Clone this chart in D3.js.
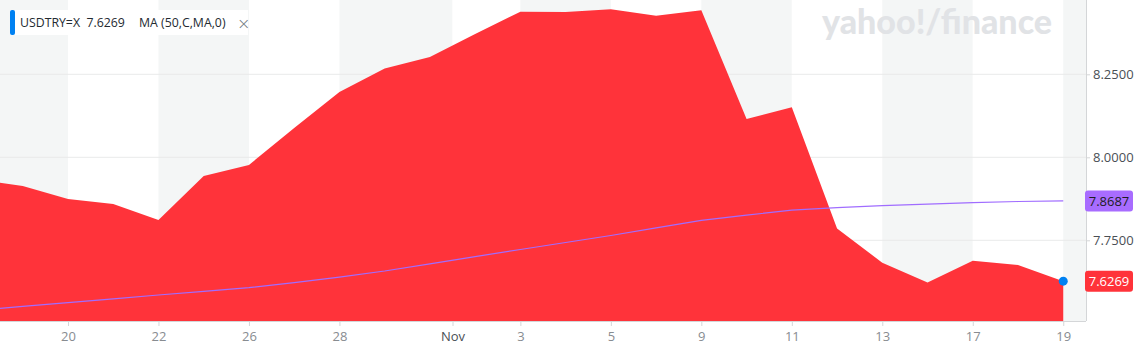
<!DOCTYPE html>
<html>
<head>
<meta charset="utf-8">
<script src="https://cdn.jsdelivr.net/npm/d3@7"></script>
<style>
  body { margin: 0; background: #fff; }
  svg { display: block; font-family: "Open Sans", "Noto Sans", sans-serif; }
</style>
</head>
<body>
<div id="chart"></div>
<script>
// data (USD/TRY daily close, Oct 16 - Nov 19 2020)
var dates = ["Oct 16", "Oct 19", "Oct 20", "Oct 21", "Oct 22", "Oct 23", "Oct 26", "Oct 27",
             "Oct 28", "Oct 29", "Oct 30", "Nov 2", "Nov 3", "Nov 4", "Nov 5", "Nov 6",
             "Nov 9", "Nov 10", "Nov 11", "Nov 12", "Nov 13", "Nov 16", "Nov 17", "Nov 18", "Nov 19"];
var closes = [7.9334, 7.9136, 7.8744, 7.8593, 7.8111, 7.9437, 7.9768, 8.0883,
              8.1967, 8.2675, 8.3021, 8.3714, 8.4386, 8.4377, 8.4458, 8.4265,
              8.4428, 8.1154, 8.1506, 7.7855, 7.6825, 7.6230, 7.6886, 7.6756, 7.6269];
var ma50 = [7.5395, 7.5509, 7.5620, 7.5735, 7.5852, 7.5961, 7.6072, 7.6223,
            7.6392, 7.6575, 7.6792, 7.7009, 7.7223, 7.7434, 7.7645, 7.7873,
            7.8102, 7.8256, 7.8410, 7.8485, 7.8542, 7.8590, 7.8633, 7.8669, 7.8687];
// x tick positions (day index) and their labels
var xTickPos = [2, 4, 6, 8, 10.5, 12, 14, 16, 18, 20, 22, 24];
var xTickLabels = ["20", "22", "26", "28", "Nov", "3", "5", "9", "11", "13", "17", "19"];
var yTicks = [7.75, 8.0, 8.25];

var W = 1141, H = 351;
var plotW = 1086, plotH = 321;

var svg = d3.select("#chart").append("svg")
    .attr("width", W)
    .attr("height", H);

var x = d3.scaleLinear().domain([1, 24]).range([22.75, 1063.25]);
var y = d3.scaleLinear().domain([7.5, 8.5]).range([323.3, -8.7]);

svg.append("clipPath").attr("id", "plotclip")
  .append("rect").attr("x", 0).attr("y", 0).attr("width", plotW).attr("height", plotH);

var plot = svg.append("g").attr("clip-path", "url(#plotclip)");

// alternating column bands between ticks
var edges = [0].concat(xTickPos.map(function(d) { return x(d); }), [plotW]);
var bands = d3.pairs(edges);
plot.selectAll("rect.band")
  .data(bands)
  .enter().append("rect")
    .attr("class", "band")
    .attr("x", function(d) { return d[0]; })
    .attr("y", 0)
    .attr("width", function(d) { return d[1] - d[0]; })
    .attr("height", plotH)
    .attr("fill", function(d, i) { return i % 2 == 0 ? "#f4f6f6" : "#ffffff"; });

// horizontal grid
plot.selectAll("line.grid")
  .data(yTicks)
  .enter().append("line")
    .attr("x1", 0).attr("x2", plotW)
    .attr("y1", function(d) { return y(d); })
    .attr("y2", function(d) { return y(d); })
    .attr("stroke", "#e9eaea")
    .attr("stroke-width", 1);

// watermark
svg.append("text")
    .attr("x", 822).attr("y", 34)
    .attr("font-family", "Lato, 'Open Sans', sans-serif")
    .attr("font-weight", 900)
    .attr("font-size", 34)
    .attr("fill", "#e1e3e6")
    .text("yahoo!/finance");

// price area
var area = d3.area()
    .x(function(d, i) { return x(i); })
    .y0(plotH)
    .y1(function(d) { return y(d); });

plot.append("path")
    .datum(closes)
    .attr("d", area)
    .attr("fill", "#ff333a");

// moving average
var line = d3.line()
    .x(function(d, i) { return x(i); })
    .y(function(d) { return y(d); });

plot.append("path")
    .datum(ma50)
    .attr("d", line)
    .attr("fill", "none")
    .attr("stroke", "#a06dff")
    .attr("stroke-width", 1.2);

// last point marker
var last = closes.length - 1;
svg.append("circle")
    .attr("cx", x(last))
    .attr("cy", y(closes[last]))
    .attr("r", 4.5)
    .attr("fill", "#0081f2");

// axes
var xAxis = svg.append("g")
    .attr("transform", "translate(0," + plotH + ")")
    .call(d3.axisBottom(x)
      .tickValues(xTickPos)
      .tickSize(5)
      .tickPadding(6)
      .tickFormat(function(d, i) { return xTickLabels[i]; }));
xAxis.select(".domain").attr("d", "M0,0.5H" + plotW).attr("stroke", "#d4d6d8");
xAxis.selectAll(".tick line").attr("stroke", "#d4d6d8");
xAxis.selectAll(".tick text")
    .attr("font-family", "'Open Sans', sans-serif")
    .attr("font-size", 13)
    .attr("fill", function(d, i) { return xTickLabels[i] == "Nov" ? "#4a4f55" : "#888c91"; });

var yAxis = svg.append("g")
    .attr("transform", "translate(" + plotW + ",0)")
    .call(d3.axisRight(y)
      .tickValues(yTicks)
      .tickSize(4)
      .tickPadding(3)
      .tickFormat(d3.format(".4f")));
yAxis.select(".domain").attr("d", "M0.5,0V" + plotH).attr("stroke", "#d4d6d8");
yAxis.selectAll(".tick line").attr("stroke", "#d4d6d8");
yAxis.selectAll(".tick text")
    .attr("font-family", "'Open Sans', sans-serif")
    .attr("font-size", 13)
    .attr("fill", "#4a4f55");

// value flags on the right axis
var flags = [
  {v: ma50[last], bg: "#a86cff", fg: "#1d1d1d"},
  {v: closes[last], bg: "#ff333a", fg: "#ffffff"}
];
var fl = svg.selectAll("g.flag")
  .data(flags)
  .enter().append("g")
    .attr("class", "flag")
    .attr("transform", function(d) { return "translate(1085," + y(d.v) + ")"; });
fl.append("rect")
    .attr("x", 0).attr("y", -10.5)
    .attr("width", 48).attr("height", 21)
    .attr("rx", 3)
    .attr("fill", function(d) { return d.bg; });
fl.append("text")
    .attr("x", 24).attr("y", 5)
    .attr("text-anchor", "middle")
    .attr("font-family", "'Open Sans', sans-serif")
    .attr("font-size", 13)
    .attr("fill", function(d) { return d.fg; })
    .text(function(d) { return d3.format(".4f")(d.v); });

// legend box
var leg = svg.append("g").attr("transform", "translate(10,10)");
leg.append("rect")
    .attr("width", 238).attr("height", 25)
    .attr("fill", "#ffffff");
leg.append("rect")
    .attr("width", 5).attr("height", 25)
    .attr("rx", 2)
    .attr("fill", "#0081f2");
leg.append("text")
    .attr("x", 10).attr("y", 17)
    .attr("font-family", "'Open Sans', sans-serif")
    .attr("font-size", 12.3)
    .attr("fill", "#232a31")
    .attr("xml:space", "preserve")
    .text("USDTRY=X  " + d3.format(".4f")(closes[last]));
leg.append("text")
    .attr("x", 129).attr("y", 17)
    .attr("font-family", "'Open Sans', sans-serif")
    .attr("font-size", 12.3)
    .attr("fill", "#232a31")
    .text("MA (50,C,MA,0)");
leg.append("text")
    .attr("x", 227).attr("y", 18.5)
    .attr("font-family", "'DejaVu Sans', sans-serif")
    .attr("font-size", 16)
    .attr("font-weight", 300)
    .attr("fill", "#6e7780")
    .text("\u00d7");
</script>
</body>
</html>
